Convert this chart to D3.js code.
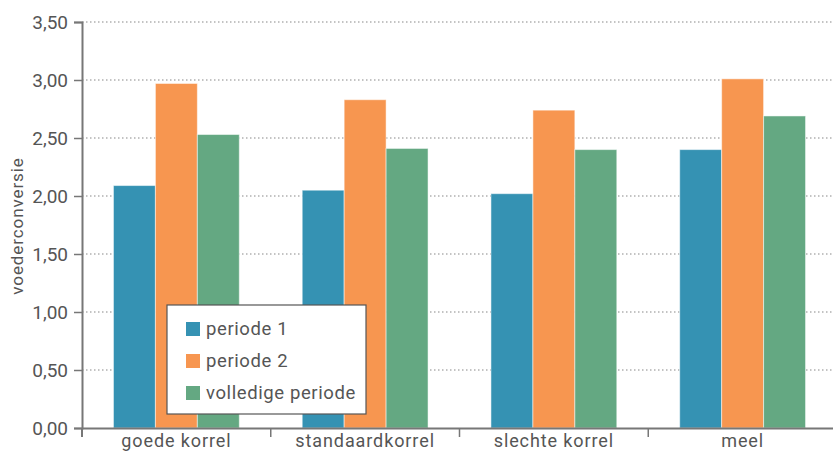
<!DOCTYPE html>
<html><head><meta charset="utf-8">
<script src="https://cdn.jsdelivr.net/npm/d3@7"></script>
<style>body{margin:0;background:#fff}svg{display:block}text{font-family:Roboto,"DejaVu Sans",sans-serif;fill:#555}</style>
</head><body><svg id="c" width="833" height="457"></svg>
<script>
const categories = ["goede korrel","standaardkorrel","slechte korrel","meel"];
const seriesNames = ["periode 1","periode 2","volledige periode"];
const periode1 = [2.09, 2.05, 2.02, 2.40];
const periode2 = [2.97, 2.83, 2.74, 3.01];
const volledig = [2.53, 2.41, 2.40, 2.69];
const yTicks = [0,0.5,1,1.5,2,2.5,3,3.5];
const colors = ["#3592b3","#f79650","#64a882"];
const series = [periode1, periode2, volledig];

const svg = d3.select("#c");
const x = d3.scaleBand().domain(categories).range([82, 837]).paddingInner(0).paddingOuter(0);
const y = d3.scaleLinear().domain([0,3.5]).range([428,22]);
const fmt = d => d3.format(".2f")(d).replace(".", ",");

// grid
svg.append("g").selectAll("line").data(yTicks.filter(d=>d>0)).join("line")
  .attr("x1",82).attr("x2",833).attr("y1",d=>y(d)).attr("y2",d=>y(d))
  .attr("stroke","#888").attr("stroke-width",1.2).attr("stroke-dasharray","1.5,2.5");

// bars
const inner = x.bandwidth()*2/3;
const x1 = d3.scaleBand().domain(d3.range(3)).range([0, inner]);
const off = (x.bandwidth()-inner)/2;
const g = svg.append("g");
categories.forEach((c,i)=>{
  series.forEach((s,j)=>{
    g.append("rect").attr("x", x(c)+off+x1(j)).attr("width", x1.bandwidth())
      .attr("y", y(s[i])).attr("height", y(0)-y(s[i]))
      .attr("fill", colors[j]).attr("stroke","rgba(255,255,255,0.5)").attr("stroke-width",1);
  });
});

// y axis
const ya = svg.append("g").attr("transform","translate(82,0)")
  .call(d3.axisLeft(y).tickValues(yTicks).tickFormat(fmt).tickSize(8).tickPadding(6));
ya.select(".domain").attr("stroke","#777").attr("stroke-width",2);
ya.selectAll(".tick line").attr("stroke","#777").attr("stroke-width",1.5);
ya.selectAll("text").style("font-size","19px").attr("fill","#555");

// x axis
const xa = svg.append("g").attr("transform","translate(0,428)")
  .call(d3.axisBottom(x).tickSize(0).tickPadding(13));
xa.select(".domain").attr("stroke","#777").attr("stroke-width",2);
xa.selectAll("text").style("font-size","18px").style("letter-spacing","0.9px").attr("fill","#555").attr("dy","0.35em");
svg.append("g").selectAll("line").data(categories.slice(1)).join("line")
  .attr("x1",d=>x(d)).attr("x2",d=>x(d)).attr("y1",428).attr("y2",437)
  .attr("stroke","#777").attr("stroke-width",1.5);
svg.append("line").attr("x1",82).attr("x2",82).attr("y1",428).attr("y2",437).attr("stroke","#777").attr("stroke-width",2);

// y label
svg.append("text").attr("transform","translate(23,226) rotate(-90)").attr("text-anchor","middle")
  .style("font-size","17px").style("letter-spacing","0.9px").text("voederconversie");

// legend
const lg = svg.append("g").attr("transform","translate(167,305)");
lg.append("rect").attr("width",199).attr("height",109).attr("fill","#fff").attr("stroke","#555").attr("stroke-width",1.2);
seriesNames.forEach((n,i)=>{
  const yy = 24 + i*32;
  lg.append("rect").attr("x",19).attr("y",yy-7).attr("width",14).attr("height",14).attr("fill",colors[i]);
  lg.append("text").attr("x",39).attr("y",yy).attr("dy","0.35em").style("font-size","18.5px").style("letter-spacing","0.6px").text(n);
});
</script></body></html>
